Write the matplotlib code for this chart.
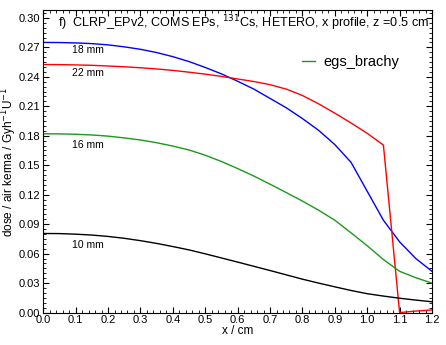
import numpy as np
import matplotlib
matplotlib.use('Agg')
import matplotlib.pyplot as plt
from matplotlib.ticker import MultipleLocator

plt.rcParams['font.family'] = ['Liberation Sans', 'DejaVu Sans']

x = np.arange(0, 25) * 0.05  # positions in cm

dose_18mm = [0.2750, 0.2749, 0.2745, 0.2738, 0.2725, 0.2705, 0.2680, 0.2647, 0.2605,
             0.2555, 0.2495, 0.2430, 0.2355, 0.2275, 0.2180, 0.2085, 0.1975, 0.1855,
             0.1710, 0.1530, 0.1235, 0.0940, 0.0720, 0.0550, 0.0420]
dose_22mm = [0.2525, 0.2524, 0.2521, 0.2517, 0.2510, 0.2502, 0.2492, 0.2480, 0.2465,
             0.2447, 0.2427, 0.2404, 0.2378, 0.2352, 0.2320, 0.2275, 0.2210, 0.2125,
             0.2030, 0.1930, 0.1825, 0.1705, 0.0000, 0.0015, 0.0027]
dose_16mm = [0.1820, 0.1819, 0.1815, 0.1808, 0.1796, 0.1778, 0.1757, 0.1729, 0.1695,
             0.1655, 0.1602, 0.1538, 0.1466, 0.1390, 0.1307, 0.1222, 0.1135, 0.1042,
             0.0940, 0.0812, 0.0680, 0.0540, 0.0420, 0.0355, 0.0300]
dose_10mm = [0.0805, 0.0804, 0.0798, 0.0789, 0.0775, 0.0756, 0.0732, 0.0704, 0.0672,
             0.0638, 0.0598, 0.0556, 0.0514, 0.0471, 0.0428, 0.0384, 0.0340, 0.0300,
             0.0262, 0.0225, 0.0192, 0.0168, 0.0146, 0.0127, 0.0110]

labels = ['18 mm', '22 mm', '16 mm', '10 mm']
label_y = [0.2675, 0.2438, 0.1706, 0.0689]

fig = plt.figure(figsize=(4.46, 3.45), dpi=100)
ax = fig.add_axes([0.097, 0.094, 0.8716, 0.877])

lw = 1.0
ax.plot(x, dose_18mm, color='#0000ff', lw=lw)
ax.plot(x, dose_22mm, color='#ff0000', lw=lw)
ax.plot(x, dose_16mm, color='#1a9a1a', lw=lw, label='egs_brachy')
ax.plot(x, dose_10mm, color='black', lw=lw)

for lab, yy in zip(labels, label_y):
    ax.text(0.088, yy, lab, fontsize=7.5, va='center', ha='left')

ax.text(0.038, 0.955, 'f)  CLRP_EPv2, COMS EPs, $^{131}$Cs, HETERO, x profile, z =0.5 cm',
        transform=ax.transAxes, fontsize=9.1, va='center', ha='left')

ax.legend(loc='upper right', bbox_to_anchor=(0.95, 0.895), frameon=False, fontsize=10.5,
          handlelength=0.9, handletextpad=0.6)

ax.set_xlim(0, 1.2)
ax.set_ylim(0, 0.308)
ax.xaxis.set_major_locator(MultipleLocator(0.1))
ax.xaxis.set_minor_locator(MultipleLocator(0.02))
ax.yaxis.set_major_locator(MultipleLocator(0.03))
ax.yaxis.set_minor_locator(MultipleLocator(0.005))
ax.xaxis.set_major_formatter(plt.FormatStrFormatter('%.1f'))
ax.yaxis.set_major_formatter(plt.FormatStrFormatter('%.2f'))
ax.tick_params(which='both', direction='in', top=True, right=True, labelsize=8, pad=2)
ax.tick_params(which='major', length=4.5, width=0.8)
ax.tick_params(which='minor', length=2.5, width=0.6)

ax.set_xlabel('x / cm', fontsize=8.5, labelpad=0)
fig.text(0.021, 0.53, 'dose / air kerma / Gyh$^{-1}$U$^{-1}$', fontsize=8.5,
         rotation=90, ha='center', va='center')

fig.savefig('out.png', dpi=100)
